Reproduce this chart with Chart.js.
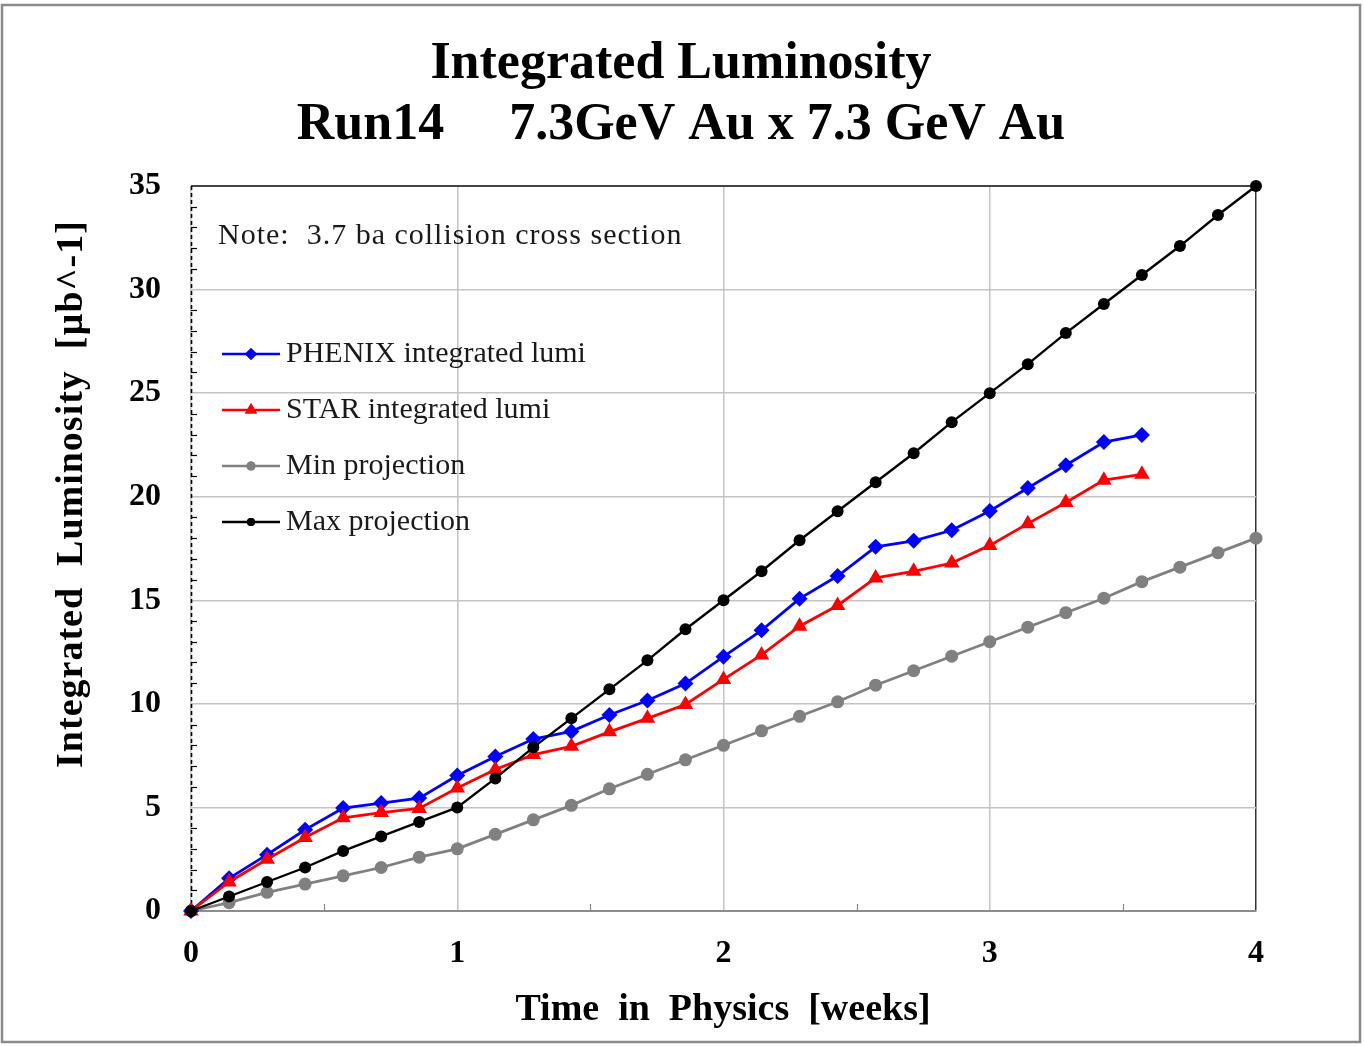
<!DOCTYPE html>
<html>
<head>
<meta charset="utf-8">
<script src="https://cdn.jsdelivr.net/npm/chart.js@4.4.1/dist/chart.umd.min.js"></script>
<style>
  html, body { margin: 0; padding: 0; background: #fff; }
  #chart { display: block; }
</style>
</head>
<body>
<canvas id="chart" width="1364" height="1046"></canvas>
<script>
// day of the run (x axis is shown in weeks)
var days = [0, 1, 2, 3, 4, 5, 6, 7, 8, 9, 10, 11, 12, 13, 14, 15, 16, 17, 18, 19, 20, 21, 22, 23, 24, 25, 26, 27, 28];

var phenixLumi = [0, 1.58, 2.72, 3.92, 4.97, 5.21, 5.45, 6.54, 7.46, 8.3, 8.67, 9.46, 10.16, 10.98, 12.28, 13.55,
                  15.08, 16.17, 17.58, 17.87, 18.38, 19.31, 20.42, 21.52, 22.64, 22.98];
var starLumi   = [0, 1.4, 2.5, 3.55, 4.5, 4.75, 4.95, 5.94, 6.83, 7.55, 7.95, 8.65, 9.3, 9.97, 11.18, 12.36,
                  13.75, 14.75, 16.08, 16.4, 16.8, 17.65, 18.7, 19.72, 20.8, 21.08];
var minProj    = [0, 0.4, 0.9, 1.3, 1.7, 2.1, 2.6, 3.0, 3.7, 4.4, 5.1, 5.9, 6.6, 7.3, 8.0, 8.7, 9.4, 10.1,
                  10.9, 11.6, 12.3, 13.0, 13.7, 14.4, 15.1, 15.9, 16.6, 17.3, 18.0];
var maxProj    = [0, 0.7, 1.4, 2.1, 2.9, 3.6, 4.3, 5.0, 6.4, 7.9, 9.3, 10.7, 12.1, 13.6, 15.0, 16.4, 17.9,
                  19.3, 20.7, 22.1, 23.6, 25.0, 26.4, 27.9, 29.3, 30.7, 32.1, 33.6, 35.0];

var xTicks = [0, 1, 2, 3, 4];
var yTicks = [0, 5, 10, 15, 20, 25, 30, 35];

var titleLines = ['Integrated Luminosity', 'Run14     7.3GeV Au x 7.3 GeV Au'];
var noteText = 'Note:  3.7 ba collision cross section';
var xTitle = 'Time  in  Physics  [weeks]';
var yTitle = 'Integrated  Luminosity  [\u00b5b^-1]';

var SERIF = '"Liberation Serif", "Times New Roman", serif';

function pts(vals) {
  return vals.map(function (v, i) { return { x: days[i] / 7, y: v }; });
}

var series = [
  { label: 'PHENIX integrated lumi', data: phenixLumi, color: '#0000ff', style: 'rectRot', r: 8, lr: 6, order: 2, width: 2.8 },
  { label: 'STAR integrated lumi',   data: starLumi,   color: '#ff0000', style: 'triangle', r: 9, lr: 7, order: 1, width: 2.8 },
  { label: 'Min projection',         data: minProj,    color: '#808080', style: 'circle',  r: 6.5, lr: 4.5, order: 3, width: 2.8 },
  { label: 'Max projection',         data: maxProj,    color: '#000000', style: 'circle',  r: 6,   lr: 4, order: 0, width: 2.4 }
];

// titles, note, legend, minor ticks, dashed y axis and page frame
var decor = {
  id: 'decor',
  beforeDraw: function (chart) {
    var ctx = chart.ctx;
    ctx.save();
    ctx.fillStyle = '#fff';
    ctx.fillRect(0, 0, chart.width, chart.height);
    ctx.strokeStyle = '#8a8a8a';
    ctx.lineWidth = 2.5;
    ctx.strokeRect(2, 5, 1358, 1037);
    ctx.restore();
  },
  beforeDatasetsDraw: function (chart) {
    var ctx = chart.ctx;
    var xs = chart.scales.x, ys = chart.scales.y;
    ctx.save();
    // top frame line
    ctx.strokeStyle = '#444';
    ctx.lineWidth = 2;
    ctx.beginPath();
    ctx.moveTo(xs.left, ys.top);
    ctx.lineTo(xs.right, ys.top);
    ctx.stroke();
    // dashed y axis
    ctx.strokeStyle = '#000';
    ctx.lineWidth = 1.6;
    ctx.setLineDash([4, 3]);
    ctx.beginPath();
    ctx.moveTo(xs.left + 0.5, ys.top);
    ctx.lineTo(xs.left + 0.5, ys.bottom);
    ctx.stroke();
    ctx.setLineDash([]);

    // minor ticks
    ctx.lineWidth = 1.2;
    for (var v = 1; v < 35; v++) {
      if (v % 5 === 0) continue;
      var py = Math.round(ys.getPixelForValue(v)) + 0.5;
      ctx.beginPath();
      ctx.moveTo(xs.left, py);
      ctx.lineTo(xs.left + 6, py);
      ctx.stroke();
    }
    ctx.strokeStyle = '#888';
    [0.5, 1.5, 2.5, 3.5].forEach(function (w) {
      var px = Math.round(xs.getPixelForValue(w)) + 0.5;
      ctx.beginPath();
      ctx.moveTo(px, ys.bottom);
      ctx.lineTo(px, ys.bottom - 7);
      ctx.stroke();
    });
    ctx.restore();
  },
  afterDraw: function (chart) {
    var ctx = chart.ctx;
    ctx.save();

    // title
    ctx.fillStyle = '#000';
    ctx.textAlign = 'center';
    ctx.textBaseline = 'alphabetic';
    ctx.font = 'bold 52px ' + SERIF;
    ctx.fillText(titleLines[0], 681, 78);
    ctx.fillText(titleLines[1], 681, 139);

    // axis titles
    ctx.font = 'bold 38px ' + SERIF;
    ctx.fillText(xTitle, 723, 1020);
    ctx.save();
    ctx.translate(82, 494);
    ctx.rotate(-Math.PI / 2);
    ctx.letterSpacing = '1px';
    ctx.fillText(yTitle, 0, 0);
    ctx.restore();

    // note
    ctx.textAlign = 'left';
    ctx.fillStyle = '#1a1a1a';
    ctx.font = '30px ' + SERIF;
    ctx.letterSpacing = '1px';
    ctx.fillText(noteText, 218, 244);
    ctx.letterSpacing = '0px';

    // legend
    var rows = [354, 410, 466, 522];
    series.forEach(function (s, i) {
      var y = rows[i];
      ctx.strokeStyle = s.color;
      ctx.lineWidth = 2.5;
      ctx.beginPath();
      ctx.moveTo(222, y);
      ctx.lineTo(280, y);
      ctx.stroke();
      ctx.fillStyle = s.color;
      Chart.helpers.drawPoint(ctx, { pointStyle: s.style, radius: s.lr, rotation: 0, borderWidth: 0 }, 251, y);
      ctx.fill();
      ctx.fillStyle = '#1a1a1a';
      ctx.textBaseline = 'middle';
      ctx.fillText(s.label, 286, y);
    });

    ctx.restore();
  }
};

new Chart(document.getElementById('chart'), {
  type: 'line',
  data: {
    datasets: series.map(function (s) {
      return {
        label: s.label,
        data: pts(s.data),
        borderColor: s.color,
        backgroundColor: s.color,
        borderWidth: s.width,
        pointStyle: s.style,
        pointRadius: s.r,
        pointBorderWidth: 0,
        pointBackgroundColor: s.color,
        tension: 0,
        order: s.order,
        clip: false
      };
    })
  },
  options: {
    responsive: false,
    animation: false,
    events: [],
    layout: { padding: { top: 186, right: 108, bottom: 0, left: 0 } },
    plugins: { legend: { display: false }, title: { display: false }, tooltip: { enabled: false } },
    scales: {
      x: {
        type: 'linear',
        min: 0, max: 4,
        afterFit: function (s) { s.height = 135; },
        afterBuildTicks: function (s) { s.ticks = xTicks.map(function (v) { return { value: v }; }); },
        ticks: {
          font: { family: SERIF, size: 32, weight: 'bold' },
          color: '#000',
          padding: 24,
          maxRotation: 0
        },
        grid: {
          drawTicks: false,
          lineWidth: 1.5,
          color: function (c) { return c.tick && c.tick.value === 4 ? '#333' : '#c4c4c4'; }
        },
        border: { color: '#8c8c8c', width: 2 }
      },
      y: {
        type: 'linear',
        min: 0, max: 35,
        afterFit: function (s) { s.width = 191; },
        afterBuildTicks: function (s) { s.ticks = yTicks.map(function (v) { return { value: v }; }); },
        ticks: {
          font: { family: SERIF, size: 32, weight: 'bold' },
          color: '#000',
          padding: 30
        },
        grid: {
          drawTicks: false,
          lineWidth: 1.5,
          color: function (c) { return c.tick && (c.tick.value === 35 || c.tick.value === 0) ? 'rgba(0,0,0,0)' : '#c4c4c4'; }
        },
        border: { display: false }
      }
    }
  },
  plugins: [decor]
});
</script>
</body>
</html>
